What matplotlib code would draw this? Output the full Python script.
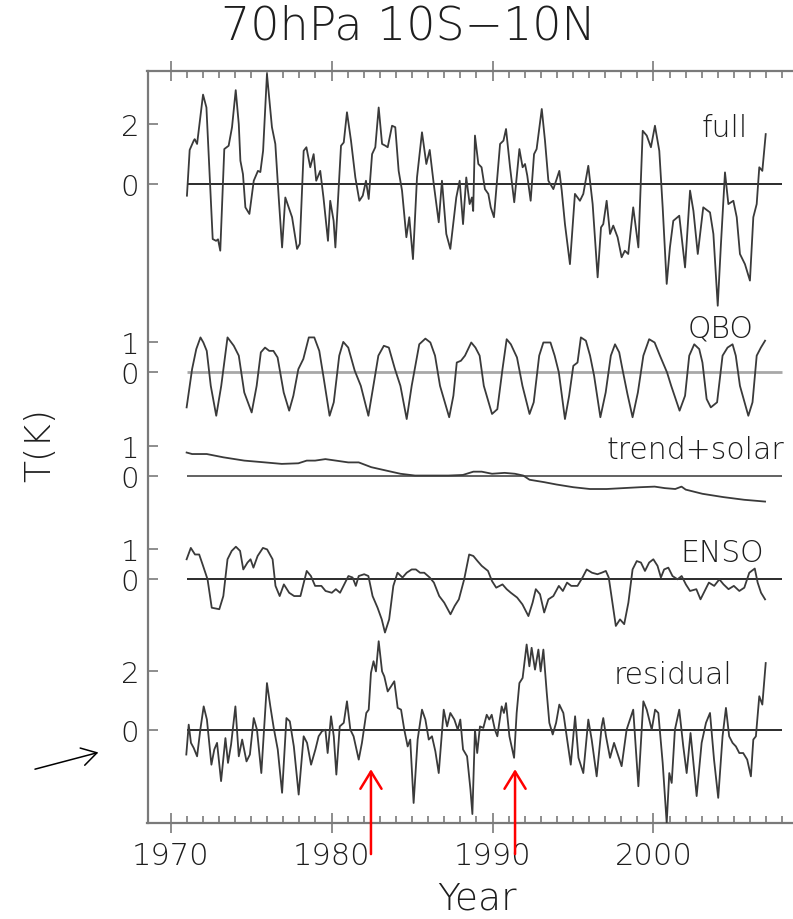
import matplotlib
matplotlib.use("Agg")
import matplotlib.pyplot as plt
import numpy as np

# ---- series (year, K anomaly) ----
full_t = [1971.02, 1971.19, 1971.44, 1971.50, 1971.65, 1971.75, 1972.02, 1972.23, 1972.43, 1972.62,
          1972.83, 1972.95, 1973.09, 1973.34, 1973.61, 1973.82, 1974.05, 1974.24, 1974.34, 1974.50,
          1974.65, 1974.90, 1975.17, 1975.43, 1975.58, 1975.75, 1975.99, 1976.30, 1976.51, 1976.72,
          1976.93, 1977.13, 1977.34, 1977.55, 1977.86, 1978.03, 1978.27, 1978.44, 1978.68, 1978.89,
          1979.05, 1979.30, 1979.50, 1979.78, 1979.92, 1980.13, 1980.24, 1980.59, 1980.76, 1980.96,
          1981.21, 1981.48, 1981.73, 1981.94, 1982.14, 1982.31, 1982.52, 1982.72, 1982.93, 1983.14,
          1983.35, 1983.49, 1983.76, 1983.96, 1984.17, 1984.38, 1984.65, 1984.83, 1985.06, 1985.31,
          1985.62, 1985.89, 1986.10, 1986.35, 1986.66, 1986.86, 1987.13, 1987.38, 1987.75, 1987.96,
          1988.17, 1988.37, 1988.58, 1988.72, 1988.80, 1988.91, 1989.12, 1989.32, 1989.53, 1989.74,
          1989.89, 1990.09, 1990.47, 1990.68, 1990.84, 1991.09, 1991.35, 1991.67, 1991.87, 1992.02,
          1992.16, 1992.37, 1992.58, 1992.74, 1993.06, 1993.26, 1993.47, 1993.78, 1993.95, 1994.15,
          1994.30, 1994.50, 1994.81, 1995.12, 1995.43, 1995.64, 1995.95, 1996.22, 1996.53, 1996.74,
          1996.88, 1997.09, 1997.30, 1997.50, 1997.77, 1998.02, 1998.22, 1998.43, 1998.74, 1999.06,
          1999.33, 1999.58, 1999.84, 2000.09, 2000.36, 2000.57, 2000.82, 2001.02, 2001.23, 2001.60,
          2001.96, 2002.27, 2002.48, 2002.75, 2003.09, 2003.51, 2003.72, 2003.99, 2004.19, 2004.44,
          2004.65, 2004.96, 2005.17, 2005.37, 2005.68, 2005.99, 2006.20, 2006.41, 2006.57, 2006.76,
          2006.97]
full_v = [-0.39, 1.14, 1.45, 1.50, 1.34, 1.78, 2.99, 2.56, 0.33, -1.84,
          -1.90, -1.85, -2.23, 1.17, 1.28, 1.90, 3.14, 2.00, 0.78, 0.33,
          -0.78, -1.00, 0.11, 0.44, 0.40, 1.11, 3.68, 1.90, 1.34, -0.45,
          -2.12, -0.45, -0.78, -1.11, -2.17, -2.00, 1.11, 1.23, 0.56, 1.00,
          0.11, 0.44, -0.45, -1.90, -0.56, -1.23, -2.12, 1.28, 1.39, 2.40,
          1.45, 0.22, -0.56, -0.39, 0.11, -0.50, 1.00, 1.23, 2.56, 1.34,
          1.28, 1.23, 1.95, 1.90, 0.44, -0.22, -1.78, -1.11, -2.51, 0.22,
          1.73, 0.67, 1.14, 0.00, -1.28, 0.11, -1.67, -2.17, -0.45, 0.11,
          -1.34, 0.22, -0.67, -0.45, -0.90, 1.62, 0.67, 0.56, -0.17, -0.33,
          -0.78, -1.11, 1.34, 1.45, 1.84, 0.56, -0.61, 1.17, 0.56, 0.67,
          0.28, -0.56, 1.00, 1.17, 2.51, 1.45, 0.11, -0.17, 0.11, 0.44,
          -0.22, -1.34, -2.68, -0.33, -0.56, -0.33, 0.61, -0.67, -3.12, -1.45,
          -1.34, -0.56, -1.67, -1.39, -1.78, -2.45, -2.23, -2.34, -0.78, -2.12,
          1.78, 1.62, 1.23, 1.95, 1.11, -0.78, -3.34, -2.12, -1.23, -1.06,
          -2.79, -0.22, -0.90, -2.34, -0.78, -0.95, -1.67, -4.07, -2.00, 0.39,
          -0.67, -0.56, -1.11, -2.34, -2.68, -3.23, -1.11, -0.67, 0.56, 0.44,
          1.67]

qbo_t = [1971.00, 1971.34, 1971.60, 1971.86, 1972.04, 1972.25, 1972.50, 1972.84, 1973.15, 1973.54,
         1973.93, 1974.24, 1974.58, 1975.04, 1975.35, 1975.61, 1975.87, 1976.13, 1976.39, 1976.65,
         1977.03, 1977.37, 1977.63, 1977.94, 1978.25, 1978.59, 1978.93, 1979.24, 1979.49, 1979.88,
         1980.14, 1980.48, 1980.73, 1981.04, 1981.44, 1981.82, 1982.29, 1982.60, 1982.91, 1983.25,
         1983.56, 1983.94, 1984.28, 1984.67, 1984.98, 1985.45, 1985.83, 1986.14, 1986.43, 1986.74,
         1987.31, 1987.57, 1987.78, 1988.04, 1988.29, 1988.68, 1988.94, 1989.20, 1989.46, 1989.97,
         1990.30, 1990.62, 1990.88, 1991.14, 1991.52, 1991.86, 1992.30, 1992.56, 1992.90, 1993.16,
         1993.60, 1993.86, 1994.12, 1994.50, 1994.76, 1995.02, 1995.28, 1995.49, 1995.80, 1996.06,
         1996.31, 1996.70, 1997.03, 1997.35, 1997.61, 1997.87, 1998.07, 1998.38, 1998.70, 1999.03,
         1999.37, 1999.73, 2000.07, 2000.40, 2000.84, 2001.10, 2001.62, 2001.96, 2002.22, 2002.53,
         2002.84, 2003.04, 2003.30, 2003.56, 2003.95, 2004.29, 2004.60, 2004.91, 2005.11, 2005.37,
         2005.89, 2006.15, 2006.41, 2006.67, 2006.93]
qbo_v = [-1.17, 0.11, 0.78, 1.17, 1.00, 0.72, -0.45, -1.45, -0.45, 1.17,
         0.89, 0.56, -0.67, -1.34, -0.45, 0.67, 0.83, 0.72, 0.72, 0.50,
         -0.67, -1.28, -0.78, 0.11, 0.45, 1.17, 1.17, 0.72, -0.11, -1.45,
         -1.00, 0.56, 1.02, 0.83, 0.06, -0.45, -1.45, -0.45, 0.56, 0.89,
         0.83, 0.11, -0.45, -1.56, -0.45, 0.94, 1.13, 1.00, 0.56, -0.45,
         -1.50, -0.78, 0.33, 0.39, 0.56, 1.00, 0.83, 0.56, -0.45, -1.39,
         -1.23, 0.11, 1.11, 0.94, 0.50, -0.45, -1.39, -1.00, 0.56, 1.00,
         1.00, 0.56, 0.00, -1.56, -0.78, 0.22, 0.33, 1.17, 1.06, 0.56,
         -0.11, -1.50, -0.67, 0.56, 0.94, 0.67, 0.11, -0.72, -1.50, -0.67,
         0.56, 1.11, 1.00, 0.56, 0.00, -0.45, -1.28, -0.78, 0.56, 0.94,
         0.78, 0.33, -0.89, -1.17, -1.00, 0.56, 0.83, 0.94, 0.56, -0.45,
         -1.45, -1.00, 0.56, 0.83, 1.06]

trend_t = [1971.00, 1971.34, 1972.25, 1973.28, 1974.58, 1975.87, 1976.91, 1977.94, 1978.46, 1978.98,
           1979.62, 1980.27, 1981.04, 1981.69, 1982.47, 1983.37, 1984.28, 1985.19, 1986.22, 1987.26,
           1988.16, 1988.81, 1989.33, 1989.97, 1990.75, 1991.39, 1991.91, 1992.30, 1993.20, 1993.98,
           1995.02, 1996.05, 1997.09, 1998.12, 1999.16, 2000.07, 2000.70, 2001.35, 2001.74, 2002.00,
           2003.04, 2004.33, 2005.63, 2006.93]
trend_v = [0.77, 0.72, 0.72, 0.61, 0.50, 0.44, 0.39, 0.41, 0.50, 0.50,
           0.55, 0.50, 0.44, 0.44, 0.28, 0.17, 0.06, 0.00, 0.00, 0.00,
           0.02, 0.13, 0.13, 0.06, 0.09, 0.06, 0.00, -0.14, -0.22, -0.30,
           -0.39, -0.45, -0.45, -0.42, -0.39, -0.37, -0.42, -0.45, -0.37, -0.47,
           -0.61, -0.72, -0.81, -0.87]

enso_t = [1971.00, 1971.26, 1971.52, 1971.78, 1971.99, 1972.30, 1972.56, 1973.03, 1973.28, 1973.54,
          1973.80, 1974.06, 1974.32, 1974.52, 1974.78, 1974.97, 1975.15, 1975.41, 1975.74, 1976.00,
          1976.34, 1976.52, 1976.78, 1977.04, 1977.37, 1977.68, 1978.07, 1978.33, 1978.46, 1978.72,
          1978.98, 1979.37, 1979.63, 1980.02, 1980.27, 1980.53, 1980.79, 1981.05, 1981.31, 1981.51,
          1981.69, 1982.03, 1982.29, 1982.55, 1982.86, 1983.12, 1983.32, 1983.58, 1983.84, 1984.10,
          1984.41, 1984.67, 1984.98, 1985.24, 1985.50, 1985.76, 1986.10, 1986.36, 1986.69, 1987.00,
          1987.39, 1987.65, 1987.91, 1988.24, 1988.55, 1988.81, 1989.07, 1989.33, 1989.72, 1989.97,
          1990.23, 1990.62, 1990.88, 1991.14, 1991.53, 1991.86, 1992.23, 1992.49, 1992.69, 1992.95,
          1993.21, 1993.47, 1993.78, 1994.12, 1994.37, 1994.63, 1994.89, 1995.28, 1995.59, 1995.85,
          1996.18, 1996.52, 1996.78, 1997.04, 1997.22, 1997.48, 1997.66, 1997.92, 1998.18, 1998.44,
          1998.70, 1998.96, 1999.22, 1999.47, 1999.73, 1999.99, 2000.25, 2000.46, 2000.66, 2000.92,
          2001.18, 2001.49, 2001.75, 2002.01, 2002.27, 2002.66, 2002.92, 2003.18, 2003.44, 2003.77,
          2004.09, 2004.35, 2004.66, 2004.99, 2005.33, 2005.64, 2005.95, 2006.29, 2006.47, 2006.68,
          2006.93]
enso_v = [0.67, 1.05, 0.83, 0.83, 0.50, 0.00, -0.95, -1.00, -0.56, 0.67,
          0.95, 1.09, 0.95, 0.33, 0.56, 0.67, 0.39, 0.78, 1.05, 1.00,
          0.67, -0.22, -0.56, -0.17, -0.45, -0.56, -0.56, 0.00, 0.28, 0.11,
          -0.22, -0.22, -0.39, -0.45, -0.33, -0.45, -0.17, 0.11, 0.06, -0.22,
          0.11, 0.17, 0.11, -0.56, -0.95, -1.34, -1.78, -1.34, -0.22, 0.22,
          0.06, 0.22, 0.33, 0.33, 0.22, 0.22, 0.06, -0.11, -0.56, -0.78,
          -1.17, -0.89, -0.67, 0.00, 0.83, 0.78, 0.61, 0.45, 0.28, -0.06,
          -0.28, -0.17, -0.33, -0.45, -0.61, -0.84, -1.23, -0.78, -0.33, -0.50,
          -1.11, -0.67, -0.56, -0.22, -0.39, -0.11, -0.22, -0.22, 0.06, 0.33,
          0.22, 0.17, 0.22, 0.28, 0.06, -0.89, -1.56, -1.34, -1.50, -0.78,
          0.33, 0.61, 0.56, 0.28, 0.56, 0.67, 0.45, 0.06, 0.33, 0.39,
          0.11, 0.00, 0.11, -0.17, -0.39, -0.33, -0.67, -0.39, -0.11, -0.22,
          0.00, -0.17, -0.33, -0.22, -0.39, -0.28, 0.22, 0.36, -0.11, -0.45,
          -0.67]

resid_t = [1970.98, 1971.13, 1971.27, 1971.44, 1971.65, 1971.85, 1972.06, 1972.26, 1972.54, 1972.72,
           1972.89, 1973.14, 1973.41, 1973.57, 1973.76, 1974.03, 1974.24, 1974.45, 1974.72, 1974.93,
           1975.17, 1975.37, 1975.64, 1975.99, 1976.20, 1976.41, 1976.66, 1976.93, 1977.20, 1977.41,
           1977.66, 1977.96, 1978.27, 1978.48, 1978.73, 1979.00, 1979.20, 1979.41, 1979.62, 1979.76,
           1979.97, 1980.14, 1980.30, 1980.51, 1980.76, 1980.96, 1981.17, 1981.37, 1981.69, 1981.89,
           1982.16, 1982.31, 1982.45, 1982.61, 1982.76, 1982.93, 1983.14, 1983.28, 1983.49, 1983.70,
           1983.90, 1984.11, 1984.32, 1984.52, 1984.73, 1984.89, 1985.10, 1985.35, 1985.62, 1985.83,
           1986.04, 1986.24, 1986.45, 1986.66, 1986.97, 1987.18, 1987.38, 1987.63, 1987.84, 1988.00,
           1988.17, 1988.42, 1988.63, 1988.75, 1988.91, 1989.05, 1989.22, 1989.43, 1989.64, 1989.80,
           1989.95, 1990.15, 1990.30, 1990.57, 1990.71, 1990.84, 1991.05, 1991.34, 1991.50, 1991.67,
           1991.87, 1992.12, 1992.29, 1992.43, 1992.64, 1992.85, 1992.99, 1993.16, 1993.37, 1993.53,
           1993.74, 1993.95, 1994.15, 1994.40, 1994.61, 1994.86, 1995.13, 1995.34, 1995.64, 1995.95,
           1996.16, 1996.47, 1996.78, 1996.88, 1997.05, 1997.30, 1997.55, 1997.82, 1998.02, 1998.33,
           1998.74, 1999.06, 1999.37, 1999.58, 1999.89, 2000.10, 2000.30, 2000.57, 2000.82, 2000.98,
           2001.13, 2001.33, 2001.60, 2001.85, 2002.06, 2002.30, 2002.68, 2002.99, 2003.26, 2003.51,
           2003.76, 2004.02, 2004.29, 2004.50, 2004.70, 2004.91, 2005.12, 2005.33, 2005.57, 2005.82,
           2006.05, 2006.20, 2006.36, 2006.57, 2006.76, 2006.97]
resid_v = [-0.81, 0.19, -0.42, -0.59, -0.87, 0.02, 0.80, 0.36, -1.15, -0.64,
           -0.42, -1.70, -0.26, -1.09, -0.48, 0.80, -0.87, -0.31, -1.04, -0.81,
           0.41, 0.02, -1.43, 1.58, 0.80, 0.08, -0.64, -2.09, 0.41, 0.30,
           -0.54, -2.15, -0.20, -0.42, -1.15, -0.64, -0.20, -0.03, 0.02, -0.76,
           0.47, -0.20, -1.48, 0.13, 0.25, 0.97, 0.02, -0.20, -0.98, -0.42,
           0.58, 0.69, 1.92, 2.31, 1.97, 2.98, 1.97, 1.80, 1.30, 1.47,
           1.64, 0.75, 0.69, 0.02, -0.54, -0.31, -2.43, -0.31, 0.69, 0.36,
           -0.31, -0.20, -0.70, -1.43, 0.69, 0.13, 0.58, 0.36, 0.02, 0.36,
           -0.64, -0.87, -1.98, -2.80, 0.02, -0.76, 0.13, 0.08, 0.52, 0.36,
           0.52, 0.02, -0.20, 0.80, 0.58, 0.91, -0.20, -0.92, 0.58, 1.58,
           1.75, 2.87, 2.14, 2.76, 2.03, 2.70, 1.97, 2.70, 1.25, 0.25,
           -0.14, 0.25, 0.86, 0.58, -0.20, -1.15, 0.47, -0.92, -1.43, 0.36,
           -0.31, -1.54, 0.13, 0.41, -0.20, -0.92, -0.42, -0.87, -1.20, 0.02,
           0.69, -1.87, 0.97, 0.69, 0.02, 0.69, 0.58, -1.09, -3.10, -1.43,
           -1.76, 0.02, 0.69, -0.54, -1.43, -0.09, -2.20, -0.42, 0.25, 0.58,
           -0.98, -2.26, -0.20, 0.75, -0.20, -0.42, -0.54, -0.76, -0.76, -0.98,
           -1.54, -0.31, -0.20, 1.14, 0.86, 2.25]

names = ["full", "QBO", "trend+solar", "ENSO", "residual"]
offsets = [0.0, -6.30, -9.75, -13.22, -18.27]
tick_steps = [2, 1, 1, 1, 2]
x_years = [1970, 1980, 1990, 2000]

series = [(full_t, full_v), (qbo_t, qbo_v), (trend_t, trend_v),
          (enso_t, enso_v), (resid_t, resid_v)]

# zero-line styles per panel
zero_colors = ["#1a1a1a", "#a8a8a8", "#555555", "#1a1a1a", "#1a1a1a"]
zero_widths = [1.3, 2.0, 1.3, 1.3, 1.3]

# label placement (left edge year, baseline relative to panel zero)
label_x = [2003.0, 2002.1, 1997.1, 2001.7, 1997.55]
label_y = [1.62, 1.21, 0.6, 0.61, 1.58]

TXT = "#1e1e1e"
AX = "#7a7a7a"
WEIGHT = "light"

fig = plt.figure(figsize=(7.93, 9.2), dpi=100)
ax = fig.add_axes([147.5 / 793, 95.7 / 920, (793 - 147.5) / 793, 752.6 / 920])

for (t, v), off, zc, zw in zip(series, offsets, zero_colors, zero_widths):
    ax.hlines(off, 1971.0, 2008.0, color=zc, lw=zw, zorder=2)
    ax.plot(t, np.asarray(v) + off, color="#3a3a3a", lw=1.3, zorder=3)

for name, off, lx, ly in zip(names, offsets, label_x, label_y):
    ax.text(lx, off + ly, name, fontsize=21.5, color=TXT, ha="left", va="baseline",
            fontweight=WEIGHT)

ax.set_xlim(1968.57, 2008.665)
ax.set_ylim(-21.38, 3.79)

yt, yl = [], []
for off, st in zip(offsets, tick_steps):
    yt += [off + st, off]
    yl += [str(st), "0"]
ax.set_yticks(yt)
ax.set_yticklabels(yl, fontweight=WEIGHT)

ax.set_xticks(x_years)
ax.set_xticklabels([str(y) for y in x_years], fontweight=WEIGHT)
ax.set_xticks([y for y in range(1971, 2009) if y % 10 != 0], minor=True)

ax.tick_params(axis="x", which="major", direction="inout", length=14, width=1.2,
               top=True, color=AX, labelsize=22, labelcolor=TXT, pad=6)
ax.tick_params(axis="x", which="minor", direction="in", length=5, width=1.2,
               top=True, color=AX)
ax.tick_params(axis="y", which="major", direction="in", length=7, width=1.2,
               color=AX, labelsize=21, labelcolor=TXT, pad=6)

for side in ["left", "bottom", "top"]:
    ax.spines[side].set_color(AX)
    ax.spines[side].set_linewidth(1.6)
ax.spines["right"].set_visible(False)

fig.text(408 / 793, 1 - 40 / 920, "70hPa 10S\u221210N", fontsize=33, color=TXT,
         ha="center", va="baseline", fontweight=WEIGHT)
fig.text(477 / 793, 1 - 910 / 920, "Year", fontsize=27, color=TXT,
         ha="center", va="baseline", fontweight=WEIGHT)
fig.text(40 / 793, 1 - 445 / 920, "T(K)", fontsize=26, color=TXT,
         ha="center", va="center", rotation=90, fontweight=WEIGHT)

# markers pointing at the El Chichon and Pinatubo years
for yr in [1982.45, 1991.4]:
    ax.annotate("", xy=(yr, -19.57), xytext=(yr, -22.41), xycoords="data",
                textcoords="data", annotation_clip=False,
                arrowprops=dict(arrowstyle="->,head_length=0.62,head_width=0.38",
                                color="red", lw=1.8, shrinkA=0, shrinkB=0,
                                mutation_scale=20))

ax.annotate("", xy=(1965.52, -19.01), xytext=(1961.58, -19.57), xycoords="data",
            textcoords="data", annotation_clip=False,
            arrowprops=dict(arrowstyle="->,head_length=0.54,head_width=0.32",
                            color="black", lw=1.1, shrinkA=0, shrinkB=0,
                            mutation_scale=20))

fig.savefig("out.png", dpi=100)
